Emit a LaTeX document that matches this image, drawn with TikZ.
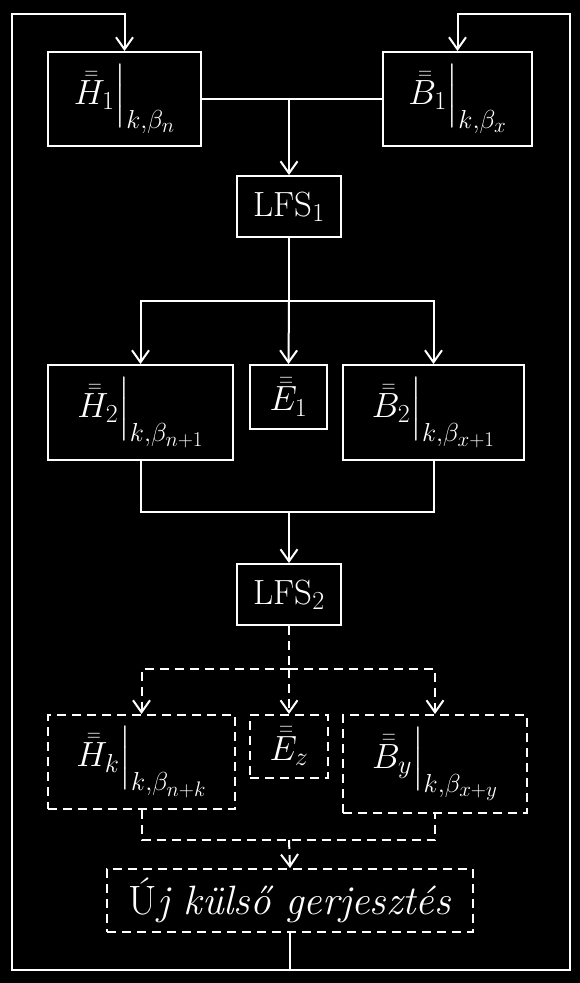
\RequirePackage{fix-cm}
\documentclass[tikz,border=0pt]{standalone}
\usepackage{amsmath}
\usepackage{amsfonts}
\usepackage{tikz}
\usetikzlibrary{arrows.meta}

\DeclareMathSizes{35}{35}{26}{21}

%field at a point macro
\newcommand{\fieldat}[3]{\bar{\bar{#1}}_{#2}\Big|_{#3}}

\begin{document}
\begin{tikzpicture}[x=1pt,y=-1pt,
  box/.style={draw=white, line width=2pt, text=white, inner sep=0pt,
    font=\fontsize{35}{42}\selectfont},
  dbox/.style={box, dash pattern=on 9pt off 6pt},
  line/.style={draw=white, line width=2pt},
  dline/.style={line, dash pattern=on 9pt off 6pt},
  arr/.style={line, -{Straight Barb[length=12pt,width=17pt,line width=2pt]}},
  darr/.style={dline, -{Straight Barb[length=12pt,width=17pt,line width=2pt]}}]

\fill[black] (0,0) rectangle (580,983);
\useasboundingbox (0,0) rectangle (580,983);

\coordinate (top) at (0,14);
\coordinate (bot) at (0,970);
\coordinate (lft) at (12,0);
\coordinate (rgt) at (570,0);

\node[box, minimum width=153, minimum height=94] (H1) at (124.5,99) {$\fieldat{H}{1}{k,\beta_n}$};
\node[box, minimum width=149, minimum height=94] (B1) at (457.5,99) {$\fieldat{B}{1}{k,\beta_x}$};
\node[box, minimum width=104, minimum height=61] (LFS1) at (289,206.5) {LFS$_1$};

\node[box, minimum width=185, minimum height=95] (H2) at (140.5,412.5) {$\fieldat{H}{2}{k,\beta_{n+1}}$};
\node[box, minimum width=77, minimum height=64] (E1) at (288.5,397) {$\bar{\bar{E}}_1$};
\node[box, minimum width=181, minimum height=95] (B2) at (433.5,412.5) {$\fieldat{B}{2}{k,\beta_{x+1}}$};
\node[box, minimum width=104, minimum height=61] (LFS2) at (289,594.5) {LFS$_2$};

\node[dbox, minimum width=187, minimum height=94] (Hk) at (141.5,762) {$\fieldat{H}{k}{k,\beta_{n+k}}$};
\node[dbox, minimum width=78, minimum height=63] (Ez) at (289,746.5) {$\bar{\bar{E}}_z$};
\node[dbox, minimum width=184, minimum height=98] (By) at (435,764) {$\fieldat{B}{y}{k,\beta_{x+y}}$};
\node[dbox, minimum width=366, minimum height=63, font=\fontsize{41}{48}\selectfont] (Uj) at (290,900.5) {\textup{Ú}\textit{j külső gerjesztés}};

%feedback loops
\draw[arr] (Uj.south) -- (Uj.south |- bot) -| (lft |- top) -| (H1.north);
\draw[arr] (Uj.south |- bot) -| (rgt |- top) -| (B1.north);

%first step
\draw[line] (H1.east) -- (B1.west);
\coordinate (j1) at (LFS1.north |- H1.east);
\draw[arr] (j1) -- (LFS1.north);

\coordinate (s1) at (289,301);
\draw[line] (LFS1.south) -- (s1);
\draw[arr] (s1) -| (H2.north);
\draw[arr] (s1) -- (E1.north);
\draw[arr] (s1) -| (B2.north);

\coordinate (m1) at (289,512);
\draw[line] (H2.south) |- (m1) -| (B2.south);
\draw[arr] (m1) -- (LFS2.north);

%later steps
\coordinate (s2) at (289,669);
\draw[dline] (LFS2.south) -- (s2);
\draw[darr] (s2) -| (Hk.north);
\draw[darr] (s2) -- (Ez.north);
\draw[darr] (s2) -| (By.north);

\coordinate (m2) at (289,840);
\draw[dline] (Hk.south) |- (m2) -| (By.south);
\draw[darr] (m2) -- (Uj.north);

\end{tikzpicture}
\end{document}
